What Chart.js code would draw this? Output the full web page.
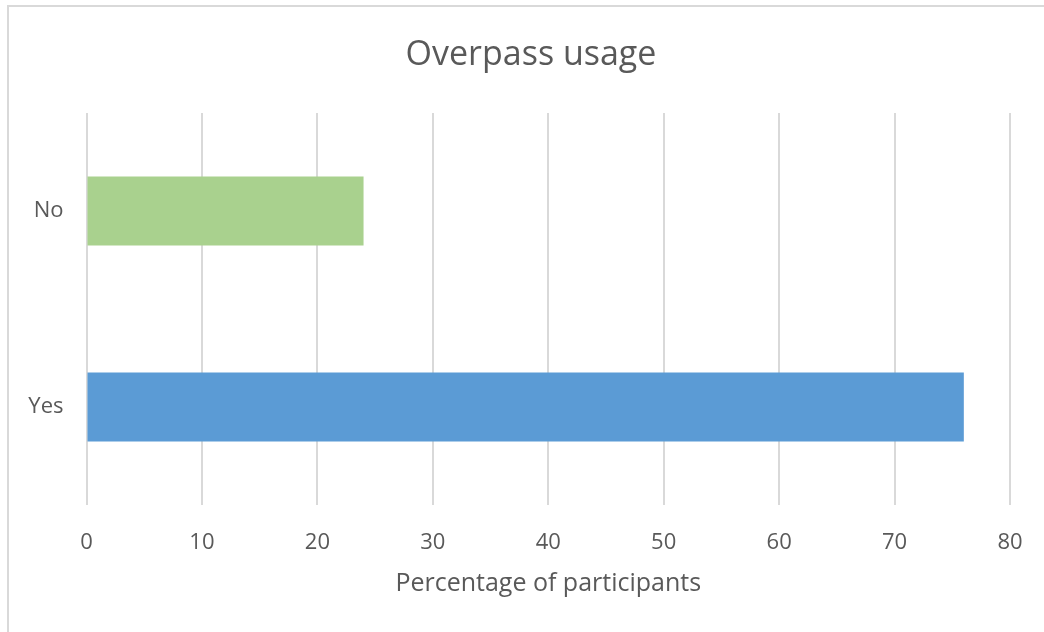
<!DOCTYPE html>
<html>
<head>
<meta charset="utf-8">
<title>Overpass usage</title>
<script src="https://cdn.jsdelivr.net/npm/chart.js@4/dist/chart.umd.min.js"></script>
<style>
  html, body { margin: 0; padding: 0; background: #ffffff; overflow: hidden; }
  #wrap { width: 1044px; height: 632px; position: relative; }
  canvas { display: block; }
</style>
</head>
<body>
<div id="wrap"><canvas id="chart" width="1044" height="632"></canvas></div>
<script>
// Survey answers and share of participants (%)
const chartTitle = 'Overpass usage';
const categories = ['No', 'Yes'];
const percentages = [24, 76];
const barColors = ['#A9D18E', '#5B9BD5'];
const xTicks = [0, 10, 20, 30, 40, 50, 60, 70, 80];

const textColor = '#595959';
const gridColor = '#d9d9d9';
const fontFamily = '"Open Sans", "Liberation Sans", sans-serif';

// White background with the light frame along the top and left edges,
// plus the chart heading placed over the plot.
const framePlugin = {
  id: 'frame',
  beforeDraw(chart) {
    const ctx = chart.ctx;
    ctx.save();
    ctx.fillStyle = '#ffffff';
    ctx.fillRect(0, 0, chart.width, chart.height);
    ctx.strokeStyle = gridColor;
    ctx.lineWidth = 2;
    ctx.beginPath();
    ctx.moveTo(8, chart.height);
    ctx.lineTo(8, 6);
    ctx.lineTo(chart.width, 6);
    ctx.stroke();

    ctx.fillStyle = textColor;
    ctx.font = '34px ' + fontFamily;
    ctx.textAlign = 'center';
    ctx.textBaseline = 'middle';
    ctx.fillText(chartTitle, 531, 55);
    ctx.restore();
  }
};

new Chart(document.getElementById('chart'), {
  type: 'bar',
  data: {
    labels: categories,
    datasets: [{
      data: percentages,
      backgroundColor: barColors,
      borderWidth: 0,
      categoryPercentage: 1,
      barPercentage: 0.352
    }]
  },
  options: {
    indexAxis: 'y',
    responsive: false,
    animation: false,
    layout: { padding: { left: 0, right: 34, top: 113, bottom: 0 } },
    plugins: {
      legend: { display: false },
      tooltip: { enabled: false },
      title: { display: false }
    },
    scales: {
      x: {
        min: 0,
        max: 80,
        afterBuildTicks(scale) {
          scale.ticks = xTicks.map(v => ({ value: v }));
        },
        afterFit(scale) { scale.height = 127; },
        grid: {
          color: gridColor,
          lineWidth: 2,
          drawTicks: true,
          tickLength: 20,
          tickColor: 'rgba(0,0,0,0)'
        },
        border: { display: false },
        ticks: {
          color: textColor,
          padding: 5,
          font: { family: fontFamily, size: 22 }
        },
        title: {
          display: true,
          text: 'Percentage of participants',
          color: textColor,
          font: { family: fontFamily, size: 25 },
          padding: { top: 10, bottom: 33 }
        }
      },
      y: {
        afterFit(scale) { scale.width = 86.5; },
        grid: { display: false, drawTicks: false },
        border: { display: false },
        ticks: {
          color: textColor,
          padding: 23,
          font: { family: fontFamily, size: 22 }
        }
      }
    }
  },
  plugins: [framePlugin]
});
</script>
</body>
</html>
